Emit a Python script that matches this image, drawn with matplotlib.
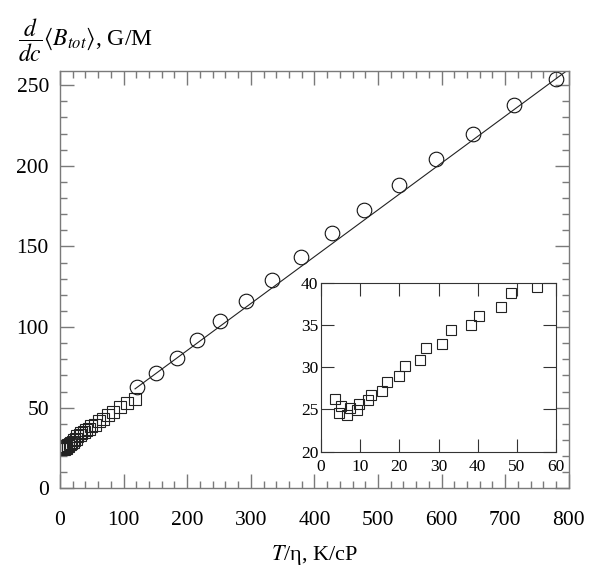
import matplotlib
matplotlib.use("Agg")
import matplotlib.pyplot as plt
from matplotlib.ticker import MultipleLocator
import numpy as np

plt.rcParams['font.family'] = ['Liberation Serif', 'DejaVu Serif']
plt.rcParams['mathtext.fontset'] = 'stix'

# Low-field data (squares), T/eta in K/cP
sq_x = [3.6, 4.5, 5.1, 6.7, 7.3, 9.2, 9.8, 12.0, 12.8, 15.5, 16.8, 19.8, 21.4,
        25.3, 26.9, 31.0, 33.2, 38.2, 40.4, 46.0, 48.6, 55.1,
        62.0, 68.0, 76.0, 84.0, 94.0, 105.0, 118.0]
sq_y = [26.2, 24.6, 25.4, 24.4, 25.2, 24.9, 25.6, 26.1, 26.7, 27.2, 28.3, 28.9, 30.2,
        30.8, 32.3, 32.8, 34.4, 35.0, 36.1, 37.1, 38.8, 39.5,
        41.5, 42.8, 45.5, 47.6, 50.3, 53.2, 55.3]

# High-field data (circles)
ci_x = [121.6, 151.0, 183.4, 216.0, 252.0, 292.0, 334.0, 379.0, 428.0,
        478.5, 533.0, 590.7, 650.0, 713.8, 780.0]
ci_y = [62.7, 71.4, 80.7, 91.9, 103.5, 116.0, 129.2, 143.5, 158.4,
        172.9, 188.4, 204.3, 220.0, 238.0, 254.0]

# Linear fit line end points
fit_x = [118.0, 797.0]
fit_slope = 0.2906
fit_icpt = 27.4

fig = plt.figure(figsize=(6, 5.79), dpi=100)
ax = fig.add_axes([0.1, 0.1566, 0.848, 0.7213])

frame_col = '#7a7a7a'
ax.plot(sq_x, sq_y, 's', ms=9, mfc='none', mec='#222222', mew=0.8)
ax.plot(ci_x, ci_y, 'o', ms=10.5, mfc='none', mec='#111111', mew=0.8)
fx = np.array(fit_x)
ax.plot(fx, fit_slope * fx + fit_icpt, '-', color='#222222', lw=0.8)

ax.set_xlim(0, 800)
ax.set_ylim(0, 259)
ax.xaxis.set_major_locator(MultipleLocator(100))
ax.xaxis.set_minor_locator(MultipleLocator(20))
ax.yaxis.set_major_locator(MultipleLocator(50))
ax.yaxis.set_minor_locator(MultipleLocator(10))
ax.tick_params(which='both', direction='in', top=True, right=True,
               color=frame_col, width=1.0, labelsize=15.5)
ax.tick_params(which='major', length=10)
ax.tick_params(which='minor', length=5)
ax.tick_params(axis='y', pad=8)
ax.tick_params(axis='x', pad=16)
for s in ax.spines.values():
    s.set_color(frame_col)
    s.set_linewidth(1.0)

ax.set_xlabel(r'$T$/η, K/cP', fontsize=16, labelpad=10)
fig.text(0.03, 0.93, r'$\dfrac{d}{dc}\langle B_{tot}\rangle$, G/M',
         fontsize=17, ha='left', va='center')

# Inset: zoom of the low-field region
ins = fig.add_axes([0.535, 0.2199, 0.3917, 0.2918])
ins.plot(sq_x, sq_y, 's', ms=6.5, mfc='none', mec='#222222', mew=0.8)
ins.set_xlim(0, 60)
ins.set_ylim(20, 40)
ins.xaxis.set_major_locator(MultipleLocator(10))
ins.yaxis.set_major_locator(MultipleLocator(5))
ins.tick_params(which='major', direction='in', top=True, right=True,
                length=9.5, width=0.8, color='#333333', labelsize=12.5)
ins.tick_params(axis='y', pad=2)
ins.tick_params(axis='x', pad=5)
for s in ins.spines.values():
    s.set_color('#333333')
    s.set_linewidth(0.8)

fig.savefig('out.png', dpi=100)
